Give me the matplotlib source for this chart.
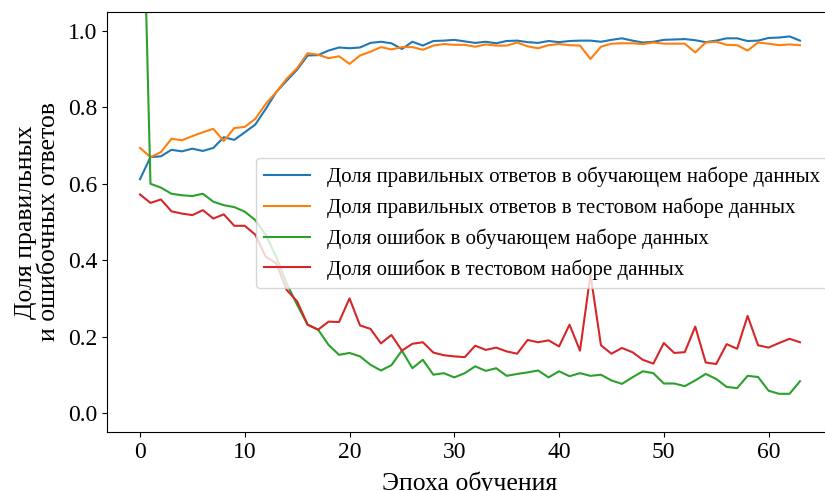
import numpy as np
import matplotlib
matplotlib.use("Agg")
import matplotlib.pyplot as plt

plt.rcParams["font.family"] = ["Liberation Serif", "DejaVu Serif"]

# accuracy / loss per epoch
train_acc = [0.612, 0.670, 0.672, 0.689, 0.685, 0.692, 0.686, 0.694, 0.722, 0.715,
             0.735, 0.755, 0.796, 0.840, 0.870, 0.899, 0.936, 0.937, 0.949, 0.957,
             0.955, 0.957, 0.969, 0.972, 0.968, 0.953, 0.972, 0.962, 0.974, 0.975,
             0.977, 0.973, 0.969, 0.972, 0.968, 0.974, 0.975, 0.971, 0.969, 0.974,
             0.971, 0.974, 0.975, 0.975, 0.972, 0.977, 0.981, 0.975, 0.970, 0.972,
             0.977, 0.978, 0.979, 0.976, 0.971, 0.975, 0.981, 0.981, 0.974, 0.975,
             0.982, 0.983, 0.986, 0.975]
test_acc = [0.694, 0.670, 0.683, 0.718, 0.714, 0.725, 0.735, 0.744, 0.712, 0.746,
            0.749, 0.770, 0.809, 0.840, 0.875, 0.903, 0.942, 0.938, 0.929, 0.934,
            0.914, 0.936, 0.946, 0.958, 0.952, 0.958, 0.958, 0.951, 0.962, 0.966,
            0.964, 0.964, 0.959, 0.965, 0.962, 0.962, 0.970, 0.960, 0.955, 0.963,
            0.966, 0.963, 0.962, 0.927, 0.959, 0.967, 0.968, 0.968, 0.966, 0.970,
            0.967, 0.967, 0.967, 0.944, 0.970, 0.972, 0.964, 0.963, 0.949, 0.970,
            0.967, 0.963, 0.965, 0.963]
train_loss = [1.70, 0.600, 0.590, 0.574, 0.570, 0.568, 0.574, 0.553, 0.544, 0.539,
              0.527, 0.505, 0.466, 0.409, 0.339, 0.283, 0.231, 0.218, 0.178, 0.152,
              0.157, 0.148, 0.126, 0.111, 0.125, 0.163, 0.117, 0.139, 0.100, 0.104,
              0.093, 0.104, 0.122, 0.110, 0.117, 0.097, 0.102, 0.106, 0.111, 0.093,
              0.109, 0.096, 0.104, 0.097, 0.100, 0.085, 0.076, 0.093, 0.109, 0.104,
              0.077, 0.077, 0.070, 0.085, 0.102, 0.089, 0.068, 0.065, 0.097, 0.094,
              0.058, 0.050, 0.050, 0.083]
test_loss = [0.572, 0.550, 0.559, 0.528, 0.522, 0.518, 0.531, 0.509, 0.520, 0.490,
             0.490, 0.467, 0.409, 0.392, 0.322, 0.292, 0.231, 0.218, 0.239, 0.238,
             0.300, 0.229, 0.220, 0.182, 0.204, 0.163, 0.181, 0.185, 0.158, 0.151,
             0.148, 0.146, 0.176, 0.165, 0.171, 0.161, 0.155, 0.191, 0.185, 0.190,
             0.174, 0.231, 0.163, 0.363, 0.177, 0.155, 0.170, 0.159, 0.139, 0.129,
             0.183, 0.157, 0.159, 0.226, 0.132, 0.128, 0.180, 0.168, 0.254, 0.177,
             0.171, 0.183, 0.194, 0.185]

labels = ["Доля правильных ответов в обучающем наборе данных",
          "Доля правильных ответов в тестовом наборе данных",
          "Доля ошибок в обучающем наборе данных",
          "Доля ошибок в тестовом наборе данных"]

epochs = np.arange(len(train_acc))

fig = plt.figure(figsize=(8.25, 4.91), dpi=100)
# right spine falls just outside the image, as in the reference crop
ax = fig.add_axes([0.1297, 0.1202, 0.880, 0.8554])

for series, label in zip([train_acc, test_acc, train_loss, test_loss], labels):
    ax.plot(epochs, series, label=label)

ax.set_ylim(-0.05, 1.05)
ax.set_xticks([0, 10, 20, 30, 40, 50, 60])
ax.set_yticks([0.0, 0.2, 0.4, 0.6, 0.8, 1.0])
ax.tick_params(labelsize=17)
ax.set_xlabel("Эпоха обучения", fontsize=18.5, labelpad=6)
ax.set_ylabel("Доля правильных\nи ошибочных ответов", fontsize=18.5,
              linespacing=1.05, labelpad=6)

ax.legend(loc="upper left", bbox_to_anchor=(0.205, 0.652), borderaxespad=0,
          fontsize=15, handlelength=2.2)

fig.savefig("out.png", dpi=100)
